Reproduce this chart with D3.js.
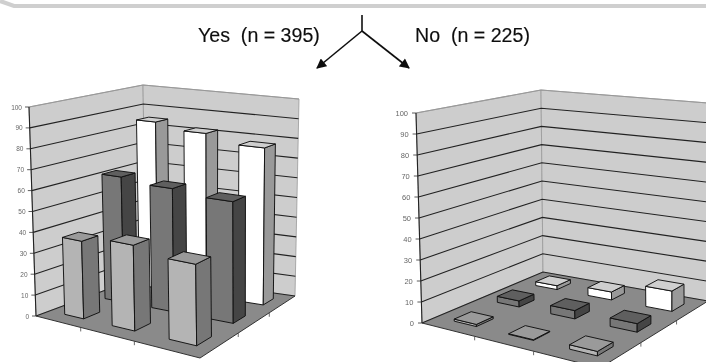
<!DOCTYPE html>
<html>
<head>
<meta charset="utf-8">
<script src="https://d3js.org/d3.v7.min.js"></script>
<style>
  body { margin: 0; background: #fff; }
  svg { display: block; }
  .tick { font: 7px "Liberation Sans", Arial, sans-serif; fill: #666; text-anchor: end; }
  .head { font: 19.6px "Liberation Sans", Arial, sans-serif; fill: #111; stroke: #111; stroke-width: 0.15; }
</style>
</head>
<body>
<div id="chart"></div>
<script>
// values, one list per row of bars (front row first)
const columns = ["a", "b", "c"];
const rows = ["front", "middle", "back"];
const valueTicks = [0, 10, 20, 30, 40, 50, 60, 70, 80, 90, 100];

const yesFront = [37, 40, 37];
const yesMiddle = [62, 60, 58];
const yesBack = [85, 82, 78];

const noFront = [1, 0.3, 2];
const noMiddle = [3, 4, 4];
const noBack = [2, 4, 10];

// front, side, top shades per row
const rowShades = {
    front: ["#b4b4b4", "#777777", "#9a9a9a"],
    middle: ["#777777", "#444444", "#5e5e5e"],
    back: ["#ffffff", "#999999", "#cfcfcf"]
};

const svg = d3.select("#chart").append("svg")
    .attr("width", 706)
    .attr("height", 362);

// the source is a soft scan, so everything gets a small blur
svg.append("filter").attr("id", "soft")
    .append("feGaussianBlur").attr("stdDeviation", 0.45);

const root = svg.append("g").attr("filter", "url(#soft)");

// maps the unit square onto a four sided shape, p0=(0,0) p1=(1,0) p2=(1,1) p3=(0,1)
function quadMap(p0, p1, p2, p3) {
    const dx1 = p1[0] - p2[0], dx2 = p3[0] - p2[0], sx = p0[0] - p1[0] + p2[0] - p3[0];
    const dy1 = p1[1] - p2[1], dy2 = p3[1] - p2[1], sy = p0[1] - p1[1] + p2[1] - p3[1];
    const det = dx1 * dy2 - dx2 * dy1;
    const g = (sx * dy2 - dx2 * sy) / det;
    const h = (dx1 * sy - sx * dy1) / det;
    const a = p1[0] - p0[0] + g * p1[0], b = p3[0] - p0[0] + h * p3[0];
    const d = p1[1] - p0[1] + g * p1[1], e = p3[1] - p0[1] + h * p3[1];
    return (u, v) => {
        const w = g * u + h * v + 1;
        return [(a * u + b * v + p0[0]) / w, (d * u + e * v + p0[1]) / w];
    };
}

function drawChart(cfg) {

    const g = root.append("g");
    const floor = quadMap(cfg.floor[0], cfg.floor[1], cfg.floor[2], cfg.floor[3]);
    const roof = quadMap(cfg.roof[0], cfg.roof[1], cfg.roof[2], cfg.roof[3]);

    const yScale = d3.scaleLinear().domain([0, 100]).range([0, 1]);
    const xScale = d3.scaleBand().domain(columns).range([0.02, 1.02]).paddingInner(0.58).paddingOuter(0.29);
    const zScale = d3.scaleBand().domain(rows).range([0, 1]).paddingInner(0.62).paddingOuter(0.31);

    // u runs along the front left edge, v goes to the back, value goes up
    const project = (u, v, value) => {
        const a = floor(u, v), b = roof(u, v), t = yScale(value);
        return [a[0] + (b[0] - a[0]) * t, a[1] + (b[1] - a[1]) * t];
    };
    const line = d3.line();
    const poly = pts => line(pts) + "Z";

    // floor
    g.append("path")
        .attr("d", poly([project(0, 0, 0), project(1, 0, 0), project(1, 1, 0), project(0, 1, 0)]))
        .attr("fill", "#8a8a8a");

    // walls
    g.append("path")
        .attr("d", poly([project(0, 0, 0), project(0, 1, 0), project(0, 1, 100), project(0, 0, 100)]))
        .attr("fill", "#cdcdcd").attr("stroke", "#999").attr("stroke-width", 0.8);
    g.append("path")
        .attr("d", poly([project(0, 1, 0), project(1, 1, 0), project(1, 1, 100), project(0, 1, 100)]))
        .attr("fill", "#cdcdcd").attr("stroke", "#999").attr("stroke-width", 0.8);

    // gridlines and value axis
    valueTicks.forEach(t => {
        const col = t === 100 ? "#999" : "#222";
        g.append("path")
            .attr("d", line([project(0, 0, t), project(0, 1, t), project(1, 1, t)]))
            .attr("fill", "none").attr("stroke", col).attr("stroke-width", 1.1);

        const p = project(0, 0, t);
        g.append("line")
            .attr("x1", p[0] - 4).attr("x2", p[0])
            .attr("y1", p[1]).attr("y2", p[1])
            .attr("stroke", "#333").attr("stroke-width", 0.8);
        g.append("text")
            .attr("class", "tick")
            .attr("x", p[0] - cfg.labelGap)
            .attr("y", p[1] + 2.5)
            .style("font-size", cfg.labelSize + "px")
            .text(t);
    });
    g.append("path")
        .attr("d", line([project(0, 0, 0), project(0, 0, 100)]))
        .attr("stroke", "#222").attr("stroke-width", 1.1);

    // floor edges and their ticks
    g.append("path")
        .attr("d", line([project(0, 0, 0), project(1, 0, 0), project(1, 1, 0)]))
        .attr("fill", "none").attr("stroke", "#333").attr("stroke-width", 1);
    [1 / 3, 2 / 3].forEach(s => {
        [[s, 0], [1, s]].forEach(c => {
            const p = project(c[0], c[1], 0);
            g.append("line")
                .attr("x1", p[0]).attr("x2", p[0])
                .attr("y1", p[1]).attr("y2", p[1] + 4)
                .attr("stroke", "#444").attr("stroke-width", 0.8);
        });
    });

    // bars, back row first so nearer ones paint over
    const bars = [];
    rows.forEach((row, r) => {
        columns.forEach((col, c) => {
            bars.push({row: row, col: col, value: cfg.values[r][c], depth: r});
        });
    });
    bars.sort((a, b) => (b.depth - a.depth) || d3.ascending(a.col, b.col));

    const edge = "#111";
    bars.forEach(d => {
        const u0 = xScale(d.col), u1 = u0 + xScale.bandwidth();
        const v0 = zScale(d.row), v1 = v0 + zScale.bandwidth();
        const shades = rowShades[d.row];
        const faces = [
            [[u0, v0, 0], [u1, v0, 0], [u1, v0, d.value], [u0, v0, d.value]],
            [[u1, v0, 0], [u1, v1, 0], [u1, v1, d.value], [u1, v0, d.value]],
            [[u0, v0, d.value], [u1, v0, d.value], [u1, v1, d.value], [u0, v1, d.value]]
        ];
        faces.forEach((f, i) => {
            g.append("path")
                .attr("d", poly(f.map(q => project(q[0], q[1], q[2]))))
                .attr("fill", shades[i])
                .attr("stroke", edge)
                .attr("stroke-width", 0.95)
                .attr("stroke-linejoin", "round");
        });
    });
}

drawChart({
    values: [yesFront, yesMiddle, yesBack],
    floor: [[36, 316], [200, 358], [295, 296], [146, 275]],
    roof: [[29, 107], [197, 132], [299, 99], [143, 85]],
    labelGap: 7,
    labelSize: 6.5
});

drawChart({
    values: [noFront, noMiddle, noBack],
    floor: [[422, 323], [600, 368], [708, 301], [543, 272]],
    roof: [[416, 113], [600, 140], [708, 103], [541, 90]],
    labelGap: 8,
    labelSize: 7.5
});

// grey band along the top of the slide
root.append("path")
    .attr("d", d3.line()([[0, 1], [14, 6], [706, 6]]))
    .attr("fill", "none")
    .attr("stroke", "#cfcfcf")
    .attr("stroke-width", 4);

// split arrow
root.append("defs").append("marker")
    .attr("id", "head")
    .attr("viewBox", "0 0 10 10")
    .attr("refX", 9).attr("refY", 5)
    .attr("markerWidth", 11).attr("markerHeight", 10)
    .attr("markerUnits", "userSpaceOnUse")
    .attr("orient", "auto")
    .append("path")
    .attr("d", "M0,0L10,5L0,10Z")
    .attr("fill", "#111");

root.append("line")
    .attr("x1", 362).attr("y1", 15).attr("x2", 362).attr("y2", 31)
    .attr("stroke", "#111").attr("stroke-width", 1.6);
[[317, 68], [409, 68]].forEach(end => {
    root.append("line")
        .attr("x1", 362).attr("y1", 31).attr("x2", end[0]).attr("y2", end[1])
        .attr("stroke", "#111").attr("stroke-width", 1.6)
        .attr("marker-end", "url(#head)");
});

root.append("text").attr("class", "head").attr("x", 198).attr("y", 42)
    .style("white-space", "pre").text("Yes  (n = 395)");
root.append("text").attr("class", "head").attr("x", 415).attr("y", 42)
    .style("white-space", "pre").text("No  (n = 225)");
</script>
</body>
</html>
